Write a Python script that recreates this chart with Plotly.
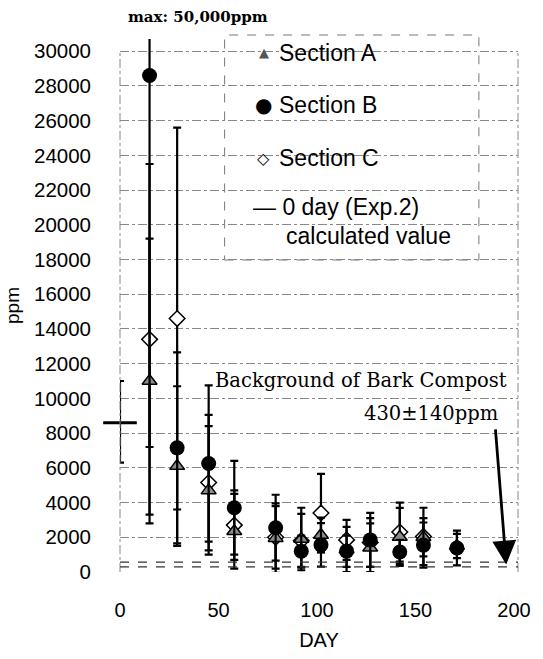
import plotly.graph_objects as go

# ---- data ----
days = [15, 29, 45, 58, 79, 92, 102, 115, 127, 142, 154, 171]
sec_a = [11000, 6100, 4700, 2350, 1950, 1900, 2130, 1300, 1400, 2020, 2000, 1500]
sec_a_err = [8200, 4600, 3700, 2150, 2000, 1800, 1000, 1300, 1400, 1670, 1100, 700]
sec_b = [28600, 7150, 6250, 3700, 2550, 1200, 1560, 1200, 1850, 1150, 1550, 1380]
sec_b_err = [21400, 5500, 4500, 2700, 1900, 900, 1250, 900, 1550, 700, 1300, 1000]
sec_c = [13400, 14600, 5150, 2700, 2000, 1800, 3400, 1850, 1700, 2300, 2050, None]
sec_c_err = [10100, 11000, 3900, 2000, 1800, 1550, 2250, 1150, 1400, 1700, 1650, None]

zero_day = [0]
zero_val = [8600]
zero_err_plus = [2400]
zero_err_minus = [2300]

bg_mean = 430
bg_sd = 140

y_ticks = list(range(0, 30001, 2000))
x_ticks = [0, 50, 100, 150, 200]

SANS = "Liberation Sans, Arial, sans-serif"
SERIF = "DejaVu Serif, serif"

fig = go.Figure()

err_style = dict(type="data", color="black", thickness=2.2, width=4)

fig.add_trace(go.Scatter(
    x=days, y=sec_c, mode="markers", name="Section C",
    marker=dict(symbol="diamond", size=12, color="white", line=dict(color="black", width=1.5)),
    error_y=dict(array=sec_c_err, **err_style)))
fig.add_trace(go.Scatter(
    x=days, y=sec_a, mode="markers", name="Section A",
    marker=dict(symbol="triangle-up", size=13, color="#8c8c8c", line=dict(color="black", width=1.5)),
    error_y=dict(array=sec_a_err, **err_style)))
fig.add_trace(go.Scatter(
    x=days, y=sec_b, mode="markers", name="Section B",
    marker=dict(symbol="circle", size=15, color="black"),
    error_y=dict(array=sec_b_err, **err_style)))
fig.add_trace(go.Scatter(
    x=zero_day, y=zero_val, mode="markers", name="0 day",
    marker=dict(symbol="line-ew", size=24, line=dict(color="black", width=3)),
    error_y=dict(type="data", symmetric=False, array=zero_err_plus, arrayminus=zero_err_minus,
                 color="black", thickness=2.2, width=4),
    cliponaxis=False))

L, R, T, B = 118, 18, 39, 87
W, H = 543, 659
pw, ph = W - L - R, H - T - B


def px(xp):
    return (xp - L) / pw


def py(yp):
    return (H - B - yp) / ph


shapes = [
    # legend box
    dict(type="rect", xref="paper", yref="paper", x0=px(225), x1=px(485), y0=py(260), y1=py(35),
         line=dict(color="#777", width=1, dash="dash"), fillcolor="white", layer="between"),
    # plot borders
    dict(type="line", xref="paper", yref="y", x0=0, x1=0, y0=0, y1=30000,
         line=dict(color="#888", width=1, dash="dashdot")),
    dict(type="line", xref="paper", yref="y", x0=1, x1=1, y0=0, y1=30000,
         line=dict(color="#888", width=1, dash="dashdot")),
    # background range
    dict(type="line", xref="paper", yref="y", x0=0, x1=1, y0=bg_mean + bg_sd, y1=bg_mean + bg_sd,
         line=dict(color="#333", width=1.3, dash="dash")),
    dict(type="line", xref="paper", yref="y", x0=0, x1=1, y0=bg_mean - bg_sd, y1=bg_mean - bg_sd,
         line=dict(color="#333", width=1.3, dash="dash")),
]


def txt(xp, yp, text, size, family=SANS, xanchor="left", color="black"):
    return dict(xref="paper", yref="paper", x=px(xp), y=py(yp), text=text, showarrow=False,
                xanchor=xanchor, yanchor="middle",
                font=dict(family=family, size=size, color=color))


ann = []
ann.append(txt(198, 17, "<b>max: 50,000ppm</b>", 15, SERIF, "center"))
ann.append(txt(213, 380, "Background of Bark Compost", 19.5, SERIF))
ann.append(txt(507, 413, "430\u00b1140ppm", 19.5, SERIF, "right"))
ann.append(dict(x=196, y=bg_mean, ax=190.5, ay=8300, axref="x", ayref="y", xref="x", yref="y",
                text="", showarrow=True, arrowhead=2, arrowsize=1.7, arrowwidth=2.8,
                arrowcolor="black"))

# legend
rows = [(53, "\u25b2", "#555", 13, "Section A"),
        (105, "\u25cf", "black", 20, "Section B"),
        (158, "\u25c7", "black", 16, "Section C")]
for yy, sym, col, sz, label in rows:
    ann.append(txt(265, yy, sym, sz, "DejaVu Sans", "center", col))
    ann.append(txt(279, yy, label, 23))
ann.append(txt(252, 207, "\u2014 0 day (Exp.2)", 23))
ann.append(txt(286, 236, "calculated value", 23))

fig.update_layout(
    width=W, height=H,
    margin=dict(l=L, r=R, t=T, b=B),
    plot_bgcolor="white", paper_bgcolor="white",
    showlegend=False,
    shapes=shapes, annotations=ann,
    font=dict(family=SANS, color="black"),
)
fig.update_xaxes(range=[0, 202], tickvals=x_ticks, showgrid=False, zeroline=False, showline=False,
                 ticks="", ticklabelstandoff=24, tickfont=dict(family=SANS, size=20, color="black"),
                 title=dict(text="DAY", font=dict(family=SANS, size=20, color="black"), standoff=12))
fig.update_yaxes(range=[0, 30700], tickvals=y_ticks, tickformat="d", showgrid=True, gridcolor="#888",
                 gridwidth=1, griddash="dashdot", zeroline=False, showline=False, ticks="",
                 ticklabelstandoff=28, tickfont=dict(family=SANS, size=20.5, color="black"),
                 title=dict(text="ppm", font=dict(family=SANS, size=19, color="black"), standoff=9))

fig.write_html("out.html")
